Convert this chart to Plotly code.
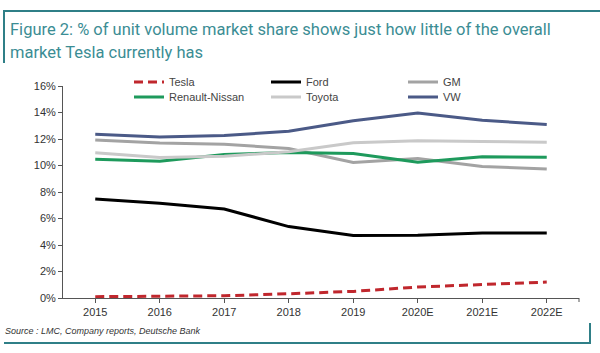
import plotly.graph_objects as go

years = ["2015", "2016", "2017", "2018", "2019", "2020E", "2021E", "2022E"]
tesla = [0.10, 0.12, 0.17, 0.32, 0.50, 0.83, 1.00, 1.20]
ford = [7.47, 7.15, 6.72, 5.39, 4.71, 4.74, 4.91, 4.91]
gm = [11.93, 11.70, 11.60, 11.29, 10.23, 10.53, 9.93, 9.73]
renault = [10.48, 10.33, 10.83, 10.99, 10.91, 10.25, 10.66, 10.63]
toyota = [10.96, 10.60, 10.70, 11.03, 11.71, 11.86, 11.81, 11.76]
vw = [12.36, 12.16, 12.26, 12.59, 13.37, 13.97, 13.42, 13.09]

y_ticks = [0, 2, 4, 6, 8, 10, 12, 14, 16]
y_ticklabels = [f"{v}%" for v in y_ticks]

FONT = "Liberation Sans, Arial, sans-serif"
TEAL = "#2f7f87"

fig = go.Figure()
series = [
    ("Tesla", tesla, "#c0272d", "9px,5px", "legend"),
    ("Ford", ford, "#000000", "solid", "legend"),
    ("GM", gm, "#a3a3a3", "solid", "legend"),
    ("Renault-Nissan", renault, "#1e9a5c", "solid", "legend2"),
    ("Toyota", toyota, "#c9c9c9", "solid", "legend2"),
    ("VW", vw, "#4b5a87", "solid", "legend2"),
]
for name, vals, color, dash, leg in series:
    fig.add_trace(go.Scatter(
        x=years, y=vals, name=name, mode="lines",
        line=dict(color=color, width=3, dash=dash),
        legend=leg,
    ))

L, R, T, B = 63, 21, 86, 55
PW = 600 - L - R
PH = 353 - T - B

def px(x):
    return (x - L) / PW

def py(y):
    return (353 - B - y) / PH

legend_common = dict(
    orientation="h", xanchor="left", yanchor="middle",
    font=dict(family=FONT, size=11, color="#444444"),
    bgcolor="rgba(0,0,0,0)", entrywidth=92, entrywidthmode="pixels",
    itemwidth=30, tracegroupgap=0,
)
fig.update_layout(
    width=600, height=353,
    margin=dict(l=L, r=R, t=T, b=B),
    paper_bgcolor="white", plot_bgcolor="white",
    showlegend=True,
    legend=dict(x=px(129), y=py(82), **legend_common),
    legend2=dict(x=px(129), y=py(97), **legend_common),
    xaxis=dict(
        type="category", range=[-0.5, 7.5],
        showline=True, linecolor="#555555", linewidth=1,
        ticks="outside", ticklen=4, tickcolor="#555555",
        showgrid=False, zeroline=False,
        tickfont=dict(family=FONT, size=11, color="#333333"),
    ),
    yaxis=dict(
        range=[0, 16], tickvals=y_ticks, ticktext=y_ticklabels,
        showline=True, linecolor="#555555", linewidth=1,
        ticks="outside", ticklen=4, tickcolor="#555555",
        showgrid=False, zeroline=False,
        tickfont=dict(family=FONT, size=11, color="#333333"),
    ),
)

shapes = [
    dict(x0=px(3), x1=px(600), y0=py(11), y1=py(11)),
    dict(x0=px(4), x1=px(4), y0=py(11), y1=py(63)),
    dict(x0=px(4), x1=px(591), y0=py(343), y1=py(343)),
    dict(x0=px(590), x1=px(590), y0=py(323), y1=py(343)),
]
for s in shapes:
    fig.add_shape(type="line", xref="paper", yref="paper",
                  line=dict(color=TEAL, width=2), **s)
# end tick of the x axis
fig.add_shape(type="line", xref="paper", yref="paper", x0=1, x1=1, y0=0, y1=py(302),
              line=dict(color="#555555", width=1))

title_font = dict(family="Roboto, Liberation Sans, sans-serif", size=16.5, color="#3b8d94")
fig.add_annotation(text="Figure 2: % of unit volume market share shows just how little of the overall",
                   xref="paper", yref="paper", x=px(8), y=py(29), xanchor="left", yanchor="middle",
                   showarrow=False, font=title_font)
fig.add_annotation(text="market Tesla currently has",
                   xref="paper", yref="paper", x=px(8), y=py(53), xanchor="left", yanchor="middle",
                   showarrow=False, font=title_font)
fig.add_annotation(text="<i>Source : LMC, Company reports, Deutsche Bank</i>",
                   xref="paper", yref="paper", x=px(3), y=py(331), xanchor="left", yanchor="middle",
                   showarrow=False, font=dict(family=FONT, size=9, color="#333333"))

fig.write_html("out.html")
